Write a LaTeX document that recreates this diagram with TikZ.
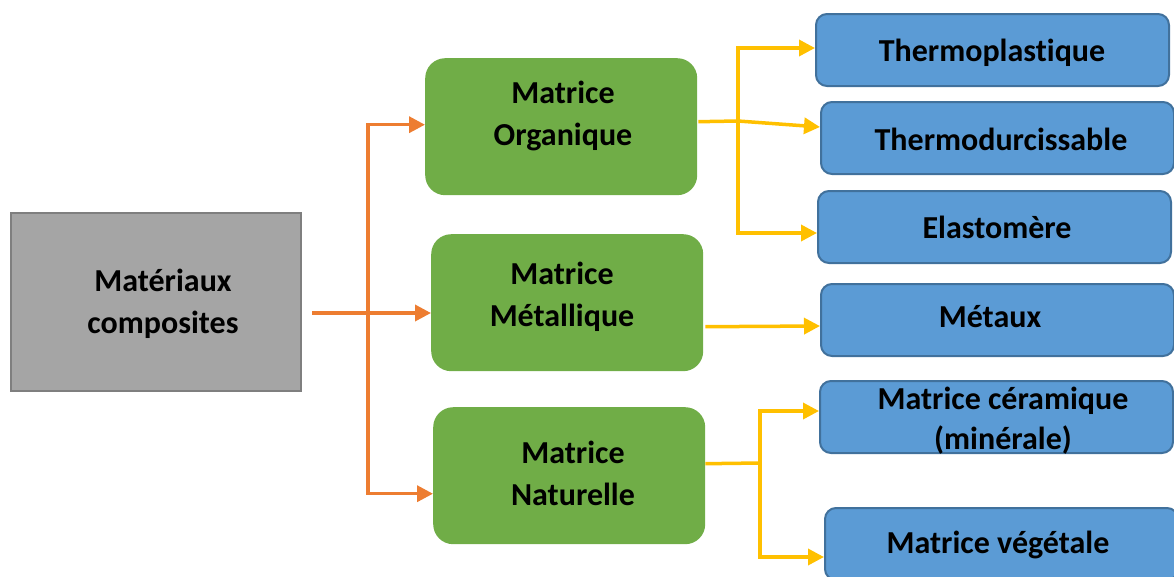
\documentclass[tikz,border=0pt]{standalone}
\usepackage{fontspec}
\setmainfont{Carlito}[Ligatures=NoCommon]
\usetikzlibrary{arrows.meta,calc}
\definecolor{grayfill}{HTML}{A5A5A5}
\definecolor{grayline}{HTML}{7F7F7F}
\definecolor{greenfill}{HTML}{70AD47}
\definecolor{bluefill}{HTML}{5B9BD5}
\definecolor{blueline}{HTML}{41719C}
\definecolor{orangeline}{HTML}{ED7D31}
\definecolor{yellowline}{HTML}{FFC000}

\begin{document}
\begin{tikzpicture}[x=1pt,y=-1pt,
  rootbox/.style={draw=grayline, line width=2pt, fill=grayfill, inner sep=0pt, anchor=north west},
  greenbox/.style={fill=greenfill, rounded corners=20pt, inner sep=0pt, anchor=north west,
    minimum width=272pt, minimum height=137pt},
  bluebox/.style={draw=blueline, line width=2pt, fill=bluefill, rounded corners=11pt,
    inner sep=0pt, anchor=north west, minimum width=353pt, minimum height=72pt},
  lbl/.style={font=\fontsize{32}{42}\selectfont\bfseries, align=center, inner sep=0pt},
  orangelink/.style={draw=orangeline, line width=3.5pt},
  yellowlink/.style={draw=yellowline, line width=3.5pt},
  tip/.style={-{Triangle[length=16pt,width=16pt]}}
]
\useasboundingbox (0,0) rectangle (1174,576);

% root
\node[rootbox, minimum width=290pt, minimum height=178pt] (root) at (10,212) {};
\node[lbl] (rootlbl) at (163,304) {Matériaux\\composites};

% matrix families
\node[greenbox] (g1) at (425,58) {};
\node[greenbox] (g2) at (431,234) {};
\node[greenbox] (g3) at (433,407) {};
\node[lbl] (g1lbl) at (563,116) {Matrice\\Organique};
\node[lbl] (g2lbl) at (562,297) {Matrice\\Métallique};
\node[lbl] (g3lbl) at (573,473) {Matrice\\Naturelle};

% leaf categories
\node[bluebox] (b1) at (815,13) {};
\node[bluebox] (b2) at (820,101) {};
\node[bluebox] (b3) at (817,190) {};
\node[bluebox] (b4) at (820,283) {};
\node[bluebox] (b5) at (819,380) {};
\node[bluebox] (b6) at (824,507) {};
\node[lbl] (b1lbl) at (992,53) {Thermoplastique};
\node[lbl] (b2lbl) at (1001,139) {Thermodurcissable};
\node[lbl] (b3lbl) at (997,227) {Elastomère};
\node[lbl] (b4lbl) at (990,317) {Métaux};
\node[lbl, font=\fontsize{32}{40}\selectfont\bfseries] (b5lbl) at (1003,421) {Matrice céramique\\(minérale)};
\node[lbl] (b6lbl) at (998,545) {Matrice végétale};

% root to families
\coordinate (ostart) at (312,313);
\coordinate (ostem) at (368,313);
\draw[orangelink] (ostart) -- (ostem);
\draw[orangelink, tip] (ostem) |- ($(g1.west)+(0,-2)$);
\draw[orangelink, tip] (ostem) -- (g2.west |- ostem);
\draw[orangelink, tip] (ostem) |- ($(g3.west)+(0,18)$);

% organic matrix branches
\coordinate (ystem1) at (738,121);
\draw[yellowlink] ($(g1.east)+(1,-5)$) -- (ystem1);
\draw[yellowlink, tip] (ystem1) |- ($(b1.west)+(0,-2)$);
\draw[yellowlink, tip] (ystem1) -- ($(b2.west)+(0,-11)$);
\draw[yellowlink, tip] (ystem1) |- ($(b3.west)+(0,6)$);

% metallic matrix branch
\draw[yellowlink, tip] ($(g2.east)+(2,24)$) -- ($(b4.west)+(0,6)$);

% natural matrix branches
\coordinate (ystem3) at (760,463);
\draw[yellowlink] ($(g3.east)+(0,-12)$) -- (ystem3);
\draw[yellowlink, tip] (ystem3) |- ($(b5.west)+(0,-6)$);
\draw[yellowlink, tip] (ystem3) |- ($(b6.west)+(0,13)$);
\end{tikzpicture}
\end{document}
